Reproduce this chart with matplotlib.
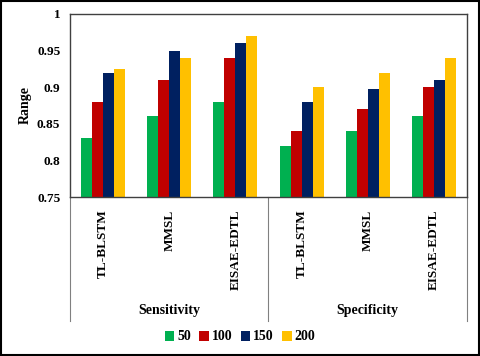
import numpy as np
import matplotlib.pyplot as plt
from matplotlib.patches import Rectangle

plt.rcParams['font.family'] = ['Liberation Serif', 'DejaVu Serif']
plt.rcParams['font.weight'] = 'bold'

methods = ['TL-BLSTM', 'MMSL', 'EISAE-EDTL']
groups = ['Sensitivity', 'Specificity']
series = ['50', '100', '150', '200']
# values per series, order: Sensitivity x3 then Specificity x3
v50 = [0.83, 0.86, 0.88, 0.82, 0.84, 0.86]
v100 = [0.88, 0.91, 0.94, 0.84, 0.87, 0.90]
v150 = [0.92, 0.95, 0.96, 0.88, 0.898, 0.91]
v200 = [0.925, 0.94, 0.97, 0.90, 0.92, 0.94]
colors = ['#00B050', '#C00000', '#002060', '#FFC000']

fig = plt.figure(figsize=(4.8, 3.56), dpi=100)
ax = fig.add_axes([70/480, 1 - 197/356, 397/480, 183/356])

x = np.arange(len(methods) * len(groups))
w = 1/6
for i, (vals, c, lab) in enumerate(zip([v50, v100, v150, v200], colors, series)):
    ax.bar(x + (i - 1.5) * w, vals, width=w, color=c, label=lab)

ax.set_xlim(-0.5, len(x) - 0.5)
ax.set_ylim(0.75, 1.0)
ax.set_yticks([0.75, 0.8, 0.85, 0.9, 0.95, 1.0])
ax.set_yticklabels(['0.75', '0.8', '0.85', '0.9', '0.95', '1'], fontsize=9.5, fontweight='bold')
ax.set_xticks(x)
ax.set_xticklabels(methods * 2, rotation=90, fontsize=9.5, fontweight='bold')
ax.tick_params(length=0, pad=7)
ax.tick_params(axis='x', pad=9)
for s in ax.spines.values():
    s.set_color('#404040')
    s.set_linewidth(1)
ax.set_ylabel('Range', fontsize=10, fontweight='bold', labelpad=4)

# group separators and labels below the axes
trans = ax.get_xaxis_transform()
for xs in [-0.5, 2.5, 5.5]:
    ax.plot([xs, xs], [0, -0.68], transform=trans, color='#808080', lw=0.8, clip_on=False)
for gi, g in enumerate(groups):
    ax.text(gi * 3 + 1, -0.62, g, transform=trans, ha='center', va='center',
            fontsize=10, fontweight='bold')

fig.legend(loc='center', bbox_to_anchor=(0.5, 19/356), ncol=4, frameon=False,
           fontsize=10, handlelength=0.7, handleheight=0.7, handletextpad=0.2,
           columnspacing=0.6)

fig.patches.append(Rectangle((0.002, 0.003), 0.996, 0.994, transform=fig.transFigure,
                             fill=False, edgecolor='black', lw=1.5))

fig.savefig('out.png', dpi=100)
